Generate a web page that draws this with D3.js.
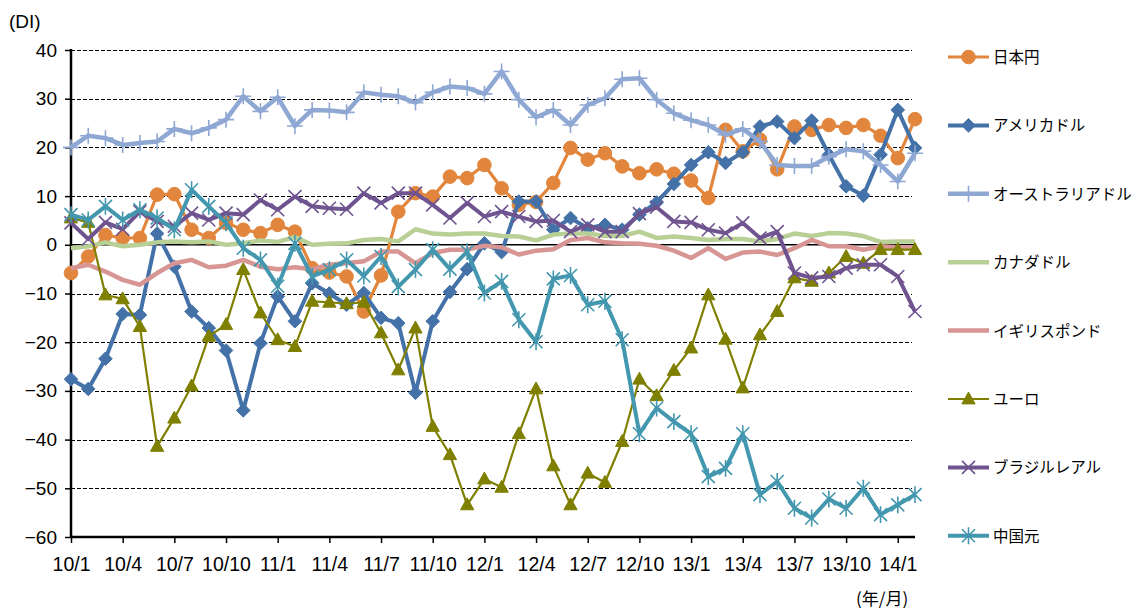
<!DOCTYPE html>
<html><head><meta charset="utf-8">
<script src="https://cdn.jsdelivr.net/npm/d3@7"></script>
<style>
html,body{margin:0;padding:0;background:#fff;}
svg{display:block;}
</style></head>
<body>
<svg id="chart" width="1136" height="609"></svg>
<script>
const months = ["10/1","10/2","10/3","10/4","10/5","10/6","10/7","10/8","10/9","10/10","10/11","10/12",
"11/1","11/2","11/3","11/4","11/5","11/6","11/7","11/8","11/9","11/10","11/11","11/12",
"12/1","12/2","12/3","12/4","12/5","12/6","12/7","12/8","12/9","12/10","12/11","12/12",
"13/1","13/2","13/3","13/4","13/5","13/6","13/7","13/8","13/9","13/10","13/11","13/12",
"14/1","14/2"];
const tickLabels = ["10/1","10/4","10/7","10/10","11/1","11/4","11/7","11/10","12/1","12/4","12/7","12/10","13/1","13/4","13/7","13/10","14/1"];
const yTicks = [40,30,20,10,0,-10,-20,-30,-40,-50,-60];

const yen = [-5.8,-2.4,2.0,1.4,1.4,10.3,10.4,3.1,1.4,4.5,3.1,2.4,4.1,2.7,-4.8,-5.7,-6.5,-13.7,-6.3,6.8,10.6,9.9,14.0,13.7,16.4,11.6,8.2,8.8,12.7,19.9,17.5,18.8,16.1,14.7,15.5,14.6,13.2,9.6,23.6,19.2,21.6,15.5,24.3,23.6,24.6,24.0,24.6,22.4,17.8,25.8];
const usd = [-27.6,-29.6,-23.4,-14.2,-14.4,2.3,-4.5,-13.7,-17.1,-21.7,-34.0,-20.2,-10.6,-15.7,-7.9,-10.0,-12.3,-9.9,-15.0,-16.1,-30.4,-15.7,-9.7,-5.0,0.3,-1.5,8.9,8.9,3.1,5.5,3.4,4.1,3.1,6.2,8.7,12.5,16.4,19.0,16.8,19.0,24.3,25.3,21.9,25.5,18.5,12.0,10.1,18.5,27.7,19.9];
const aud = [20.0,22.4,21.9,20.5,20.9,21.2,23.8,22.9,24.0,25.7,30.5,27.4,30.3,24.4,27.7,27.6,27.2,31.3,30.8,30.5,29.2,31.3,32.5,32.2,31.0,35.6,29.8,26.2,27.7,24.6,28.7,30.1,34.0,34.2,29.8,27.0,25.6,24.6,22.6,23.8,21.2,16.4,16.2,16.2,18.1,19.6,19.2,16.4,13.0,18.8];
const cad = [-0.7,-0.3,0.5,-0.3,0.0,0.5,0.7,0.5,0.7,0.0,0.3,0.9,0.6,1.6,0.0,0.2,0.3,1.0,1.2,0.7,3.2,2.3,2.1,2.3,2.3,1.8,1.7,0.9,2.1,2.3,2.3,1.8,1.8,2.7,1.4,1.7,1.4,1.0,1.2,1.2,0.7,1.2,2.3,1.8,2.4,2.3,1.8,0.6,0.7,0.7];
const gbp = [-4.8,-4.1,-5.5,-7.2,-8.2,-5.8,-3.8,-3.1,-4.6,-4.3,-3.1,-4.5,-5.0,-4.6,-5.0,-4.1,-3.8,-3.4,-1.4,-1.4,-3.8,-1.7,-1.0,-1.0,-0.2,-0.5,-2.0,-1.2,-0.9,1.0,1.4,0.5,0.3,0.2,-0.2,-1.2,-2.7,-0.7,-2.9,-1.6,-1.4,-2.1,-0.7,1.0,-0.3,-0.3,-1.0,-0.3,-0.5,-0.5];
const eur = [5.5,4.6,-10.3,-11.1,-16.8,-41.4,-35.6,-29.0,-18.8,-16.4,-5.1,-14.0,-19.5,-20.9,-11.6,-11.8,-12.1,-11.8,-18.1,-25.7,-17.1,-37.3,-43.1,-53.4,-48.1,-49.8,-38.8,-29.6,-45.4,-53.4,-46.9,-48.8,-40.4,-27.6,-31.0,-25.8,-21.2,-10.3,-19.4,-29.4,-18.5,-13.7,-6.8,-7.5,-5.8,-2.4,-3.8,-1.0,-1.0,-1.0];
const brl = [4.5,1.2,4.6,3.2,6.8,4.8,3.8,6.5,5.1,6.5,6.2,9.2,7.2,9.9,7.9,7.5,7.3,10.6,8.6,10.6,10.6,8.2,5.5,8.6,5.8,6.8,5.8,4.8,5.0,2.7,4.1,2.7,2.7,6.4,7.7,4.8,4.6,3.1,2.4,4.5,1.4,2.7,-5.8,-6.8,-6.5,-4.8,-4.1,-4.1,-6.5,-13.7];
const cny = [6.2,5.1,7.9,5.1,7.2,5.5,3.1,11.3,7.9,4.5,-0.7,-3.1,-8.5,0.3,-6.5,-5.1,-3.1,-6.4,-2.4,-8.6,-5.1,-1.0,-5.0,-1.4,-9.9,-7.5,-15.4,-19.9,-7.0,-6.3,-12.3,-11.6,-19.5,-38.8,-33.5,-36.3,-38.8,-47.6,-45.9,-38.8,-51.3,-48.6,-54.1,-56.1,-52.2,-54.1,-50.0,-55.4,-53.4,-51.3];

const seriesNames = ["日本円","アメリカドル","オーストラリアドル","カナダドル","イギリスポンド","ユーロ","ブラジルレアル","中国元"];
const seriesValues = [yen, usd, aud, cad, gbp, eur, brl, cny];

const styles = [
  {color:"#E1863C", width:3.2, marker:"circle"},
  {color:"#4472A8", width:4, marker:"diamond"},
  {color:"#8EA8D3", width:4.5, marker:"plus"},
  {color:"#B8CF95", width:4.5, marker:"none"},
  {color:"#D79593", width:4.5, marker:"none"},
  {color:"#7F7F00", width:2.2, marker:"triangle"},
  {color:"#6F5490", width:4, marker:"x"},
  {color:"#4397AE", width:4, marker:"asterisk"}
];

const svg = d3.select("#chart");
const pLeft = 71, pRight = 915, pTop = 50, pBottom = 537;
const x = d3.scaleLinear().domain([0, months.length - 1]).range([pLeft, pRight]);
const y = d3.scaleLinear().domain([-60, 40]).range([pBottom, pTop]);
const font = "'Liberation Sans', Arial, sans-serif";

// gridlines
const grid = svg.append("g");
yTicks.filter(v => v !== 0 && v !== -60).forEach(v => {
  grid.append("line").attr("x1", pLeft).attr("x2", 912).attr("y1", Math.round(y(v)) + 0.5).attr("y2", Math.round(y(v)) + 0.5)
    .attr("stroke", "#000").attr("stroke-width", 1).attr("stroke-dasharray", "4,2");
});
// zero line
svg.append("line").attr("x1", pLeft).attr("x2", pRight).attr("y1", y(0)).attr("y2", y(0))
  .attr("stroke", "#000").attr("stroke-width", 1.5);

// y axis
const yAxis = d3.axisLeft(y).tickValues(yTicks).tickSize(6).tickPadding(5).tickFormat(d3.format("d"));
const ya = svg.append("g").attr("transform", `translate(${pLeft},0)`).call(yAxis);
ya.select(".domain").attr("stroke-width", 2.5).attr("d", `M0,${pTop-1}V${pBottom+1}`);
ya.selectAll(".tick line").attr("stroke-width", 1.5);
ya.selectAll("text").attr("font-family", font).attr("font-size", 19).attr("fill", "#000").attr("dx", -3);

// x axis
const tickIdx = tickLabels.map(l => months.indexOf(l));
const xAxis = d3.axisBottom(x).tickValues(tickIdx).tickSize(6).tickPadding(14).tickFormat(i => months[i]);
const xa = svg.append("g").attr("transform", `translate(0,${pBottom})`).call(xAxis);
xa.select(".domain").attr("stroke-width", 2.5).attr("d", `M${pLeft},0H${pRight}`);
xa.selectAll(".tick line").attr("stroke-width", 1.5);
xa.selectAll("text").attr("font-family", font).attr("font-size", 19.5).attr("fill", "#000");

// axis titles
svg.append("text").attr("x", 9).attr("y", 28).text("(DI)").attr("font-family", font).attr("font-size", 19);
svg.append("text").attr("x", 856).attr("y", 605).text("(年/月)").attr("font-family", "'Noto Sans CJK JP', sans-serif").attr("font-size", 17);

function markerPath(type, r) {
  switch (type) {
    case "circle": return d3.symbol(d3.symbolCircle, Math.PI * r * r)();
    case "diamond": return `M0,${-r}L${r},0L0,${r}L${-r},0Z`;
    case "triangle": return `M0,${-r}L${r*0.95},${r*0.7}L${-r*0.95},${r*0.7}Z`;
    case "plus": return `M${-r},0H${r}M0,${-r}V${r}`;
    case "x": return `M${-r},${-r}L${r},${r}M${-r},${r}L${r},${-r}`;
    case "asterisk": return `M${-r},${-r}L${r},${r}M${-r},${r}L${r},${-r}M0,${-r*1.3}V${r*1.3}`;
  }
  return "";
}
const markerSize = {circle:6.8, diamond:6.8, triangle:7, plus:8, x:6.5, asterisk:6.5};

function drawMarker(g, type, color, cx, cy) {
  if (type === "none") return;
  const s = markerSize[type];
  const p = g.append("path").attr("d", markerPath(type, s)).attr("transform", `translate(${cx},${cy})`);
  if (type === "plus" || type === "x" || type === "asterisk") {
    p.attr("fill", "none").attr("stroke", color).attr("stroke-width", 1.6);
  } else {
    p.attr("fill", color).attr("stroke", color).attr("stroke-width", 1);
  }
}

const line = d3.line().x((d, i) => x(i)).y(d => y(d));
const plot = svg.append("g");
seriesValues.forEach((vals, k) => {
  const st = styles[k];
  const g = plot.append("g");
  g.append("path").attr("d", line(vals)).attr("fill", "none").attr("stroke", st.color)
    .attr("stroke-width", st.width).attr("stroke-linejoin", "round");
  vals.forEach((v, i) => drawMarker(g, st.marker, st.color, x(i), y(v)));
});

// legend
const legend = svg.append("g");
seriesNames.forEach((name, k) => {
  const st = styles[k];
  const ly = 57 + k * 68.4;
  legend.append("line").attr("x1", 948).attr("x2", 989).attr("y1", ly).attr("y2", ly)
    .attr("stroke", st.color).attr("stroke-width", st.width);
  drawMarker(legend, st.marker, st.color, 968.5, ly);
  legend.append("text").attr("x", 993).attr("y", ly + 6).text(name)
    .attr("font-family", "'Noto Sans CJK JP', sans-serif").attr("font-size", 15.5).attr("fill", "#000");
});
</script>
</body></html>
